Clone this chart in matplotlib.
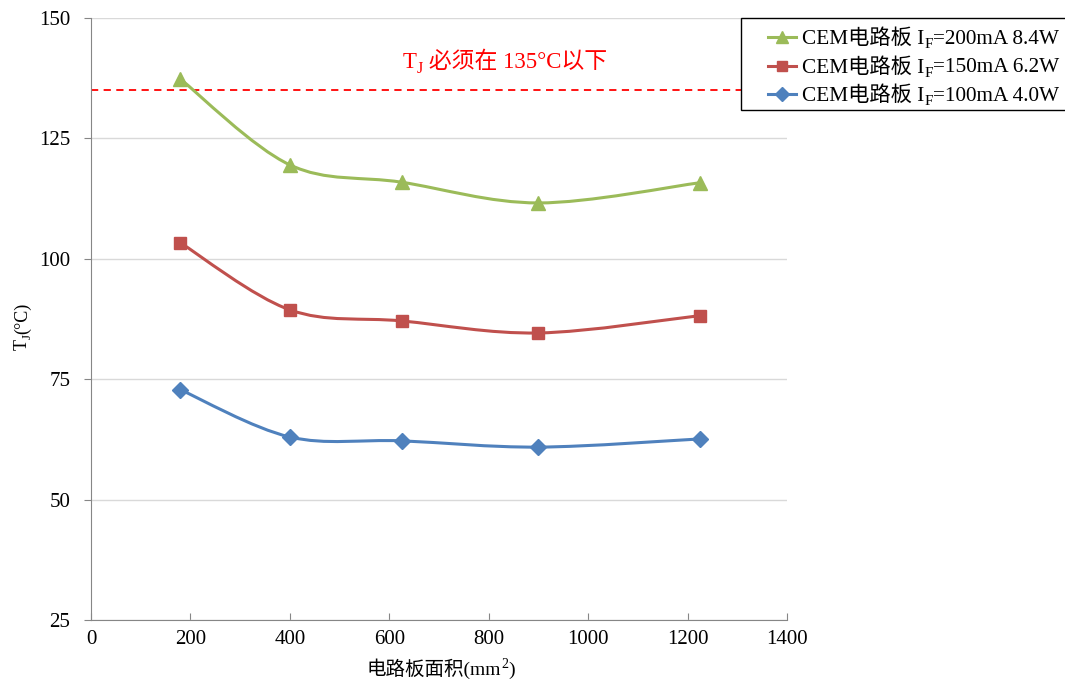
import numpy as np
import matplotlib.pyplot as plt
from matplotlib.path import Path
from matplotlib.patches import PathPatch, Rectangle
from matplotlib.lines import Line2D
from matplotlib.transforms import IdentityTransform

plt.rcParams['font.family'] = ['Liberation Serif', 'Noto Sans CJK SC']

# Data
area = [180, 400, 625, 900, 1225]
tj_200 = [137.3, 119.5, 115.9, 111.6, 115.8]
tj_150 = [103.3, 89.4, 87.1, 84.6, 88.2]
tj_100 = [72.8, 63.0, 62.2, 60.9, 62.6]
limit = 135

# legend labels: (text before subscript, subscript, text after)
labels = [('CEM电路板 I', 'F', '=200mA 8.4W'),
          ('CEM电路板 I', 'F', '=150mA 6.2W'),
          ('CEM电路板 I', 'F', '=100mA 4.0W')]
colors = ['#9BBB59', '#C0504D', '#4F81BD']
markers = ['^', 's', 'D']
msizes = [10, 8.5, 8]

W, H = 1065, 683


def smooth_path(xs, ys):
    # Excel-like smoothed line as cubic Bezier segments
    pts = np.column_stack([xs, ys]).astype(float)
    ext = np.vstack([pts[0], pts, pts[-1]])
    verts = [pts[0]]
    codes = [Path.MOVETO]
    for i in range(1, len(ext) - 2):
        p0, p1, p2, p3 = ext[i - 1], ext[i], ext[i + 1], ext[i + 2]
        c1 = p1 + (p2 - p0) / 6
        c2 = p2 - (p3 - p1) / 6
        verts += [c1, c2, p2]
        codes += [Path.CURVE4] * 3
    return Path(verts, codes)


def rich_text(fig, x, y, parts, size, color='black', rotation=0, align='center'):
    # parts: list of (string, mode) with mode None / 'sub' / 'sup'
    # x, y in pixels from top-left
    renderer = fig.canvas.get_renderer()
    items = []
    total = 0
    for s, mode in parts:
        fs = size * 0.72 if mode else size
        t = fig.text(0, 0, s, fontsize=fs, color=color, rotation=rotation,
                     rotation_mode='anchor', ha='left', va='baseline',
                     transform=IdentityTransform())
        ext = t.get_window_extent(renderer)
        length = ext.width if rotation == 0 else ext.height
        items.append((t, length, mode))
        total += length
    pos = -total / 2 if align == 'center' else 0
    px = size * fig.dpi / 72
    for t, length, mode in items:
        shift = {'sub': -0.2 * px, 'sup': 0.38 * px}.get(mode, 0)
        if rotation == 0:
            t.set_position((x + pos, H - y + shift))
        else:
            t.set_position((x - shift, H - y + pos))
        pos += length


fig = plt.figure(figsize=(W / 100, H / 100), dpi=100)
ax = fig.add_axes([91 / W, 1 - 620 / H, 696 / W, 602 / H])

ax.set_xlim(0, 1400)
ax.set_ylim(25, 150)
ax.set_xticks(range(0, 1401, 200))
ax.set_yticks(range(25, 151, 25))
ax.yaxis.grid(True, color='#D9D9D9', linewidth=1)
ax.set_axisbelow(True)

for s in ['top', 'right']:
    ax.spines[s].set_visible(False)
for s in ['left', 'bottom']:
    ax.spines[s].set_color('#868686')
ax.tick_params(axis='y', direction='out', length=5, color='#868686', labelsize=15, pad=10)
ax.tick_params(axis='x', direction='in', length=5, color='#868686', labelsize=15, pad=7)

ax.axhline(limit, color='#FF0000', linestyle=(0, (4, 3)), linewidth=1.3, zorder=2)

for ys, c, m, ms in zip([tj_200, tj_150, tj_100], colors, markers, msizes):
    ax.add_patch(PathPatch(smooth_path(area, ys), facecolor='none', edgecolor=c,
                           linewidth=2.2, zorder=3))
    ax.plot(area, ys, linestyle='none', marker=m, markersize=ms, color=c, zorder=4)

# annotation and axis labels
rich_text(fig, 505, 68, [('T', None), ('J', 'sub'), (' 必须在 135°C以下', None)],
          size=16.5, color='#FF0000')
rich_text(fig, 441, 675, [('电路板面积(mm', None), ('2', 'sup'), (')', None)], size=14)
rich_text(fig, 27, 326, [('T', None), ('J', 'sub'), ('(°C)', None)], size=13, rotation=90)

# legend drawn by hand
fig.add_artist(Rectangle((741, H - 110), 330, 92, transform=IdentityTransform(),
                         facecolor='white', edgecolor='black', linewidth=1, zorder=5))
for i, (lab, c, m, ms) in enumerate(zip(labels, colors, markers, msizes)):
    yc = 37 + i * 28.5
    fig.add_artist(Line2D([768, 796], [H - yc, H - yc], color=c, linewidth=2.2,
                          transform=IdentityTransform(), zorder=6))
    fig.add_artist(Line2D([782], [H - yc], color=c, marker=m, markersize=ms * 0.9,
                          transform=IdentityTransform(), zorder=6))
    rich_text(fig, 802, yc + 7, [(lab[0], None), (lab[1], 'sub'), (lab[2], None)],
              size=15.3, align='left')
for t in fig.texts:
    t.set_zorder(7)

fig.savefig('out.png', dpi=100)
